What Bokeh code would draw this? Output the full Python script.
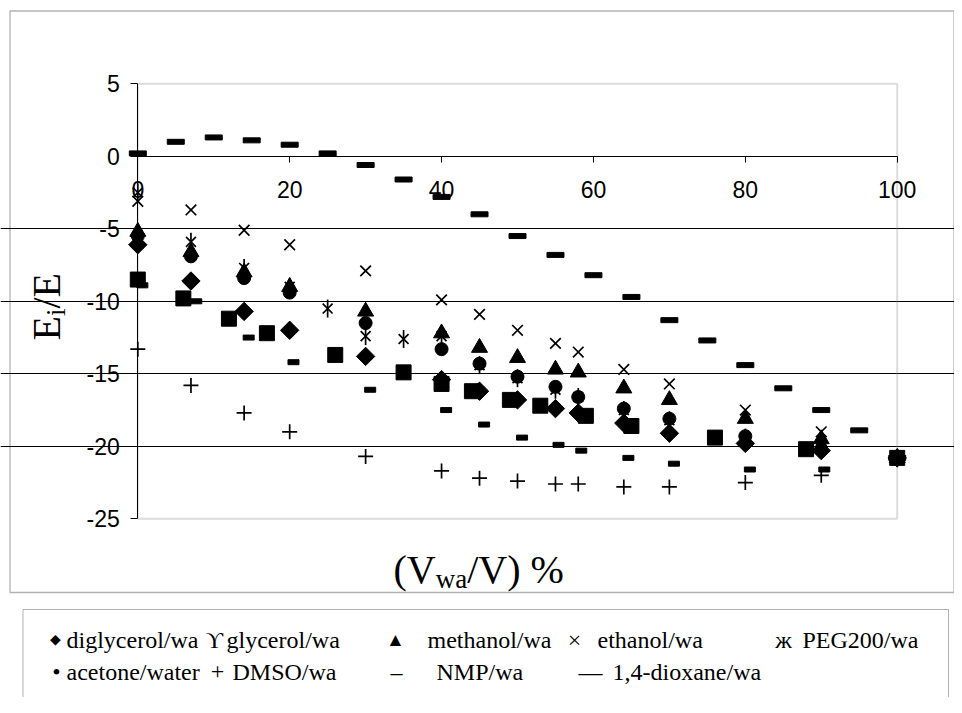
import numpy as np
from bokeh.plotting import figure
from bokeh.models import Range1d, FixedTicker, BoxAnnotation, Label
from bokeh.embed import file_html
from bokeh.resources import INLINE

# ---------------- data ----------------
x_common = [0, 7, 14, 20, 30, 40, 45, 50, 55, 58, 64, 70, 80, 90, 100]
diglycerol = [-6.1, -8.6, -10.7, -12.0, -13.8, -15.4, -16.2, -16.8, -17.4, -17.7, -18.4, -19.1, -19.8, -20.3, -20.8]
glycerol_x = [0, 6, 12, 17, 26, 35, 40, 44, 49, 53, 59, 65, 76, 88, 100]
glycerol = [-8.5, -9.8, -11.2, -12.2, -13.7, -14.9, -15.7, -16.2, -16.8, -17.2, -17.9, -18.6, -19.4, -20.2, -20.8]
methanol = [-5.2, -6.6, -8.0, -9.0, -10.7, -12.2, -13.2, -13.9, -14.7, -14.9, -16.0, -16.8, -18.1, -19.5, -20.8]
ethanol = [-3.1, -3.7, -5.1, -6.1, -7.9, -9.9, -10.9, -12.0, -12.9, -13.5, -14.7, -15.7, -17.5, -19.0, -20.8]
peg_x = [0, 7, 14, 20, 25, 30, 35, 40, 45, 50, 55, 58, 64, 70, 80, 90, 100]
peg = [-2.5, -5.9, -7.7, -9.0, -10.5, -12.4, -12.6, -12.4, -14.4, -15.3, -16.1, -16.6, -17.5, -18.2, -19.4, -20.2, -20.8]
acetone = [-5.5, -6.9, -8.4, -9.4, -11.5, -13.3, -14.3, -15.2, -15.9, -16.6, -17.4, -18.1, -19.3, -20.2, -20.8]
dmso = [-13.3, -15.8, -17.7, -19.0, -20.7, -21.7, -22.2, -22.4, -22.6, -22.6, -22.8, -22.8, -22.5, -22.0, -20.8]
nmp_x = [0.6, 7.7, 14.6, 20.5, 30.6, 40.6, 45.6, 50.6, 55.4, 58.4, 64.6, 70.6, 80.6, 90.4]
nmp = [-8.9, -10.0, -12.5, -14.2, -16.1, -17.5, -18.5, -19.4, -19.9, -20.3, -20.8, -21.2, -21.6, -21.6]
dioxane_x = [0, 5, 10, 15, 20, 25, 30, 35, 40, 45, 50, 55, 60, 65, 70, 75, 80, 85, 90, 95, 100]
dioxane = [0.2, 1.0, 1.3, 1.1, 0.8, 0.2, -0.6, -1.6, -2.8, -4.0, -5.5, -6.8, -8.2, -9.7, -11.3, -12.7, -14.4, -16.0, -17.5, -18.9, -20.8]

x_ticks = [0, 20, 40, 60, 80, 100]
y_ticks = [5, 0, -5, -10, -15, -20, -25]
grid_ticks = [-5, -10, -15, -20]

legend_row1 = [("\u25c6", "diglycerol/wa"), ("\u03d2", "glycerol/wa"), ("\u25b2", "methanol/wa"),
               ("\u00d7", "ethanol/wa"), ("\u0436", "PEG200/wa")]
legend_row2 = [("\u2022", "acetone/water"), ("+", "DMSO/wa"), ("\u2013", "NMP/wa"),
               ("\u2014", "1,4-dioxane/wa")]

# ---------------- layout ----------------
W, H = 954, 697
X0_PX, X_SCALE = 137.3, 7.594      # canvas px of x=0, px per unit
Y0_PX, Y_SCALE = 155.8, 14.5       # canvas px of y=0, px per unit

def dx(px):  # canvas px -> data x
    return (px - X0_PX) / X_SCALE

def dy(py):  # canvas px -> data y
    return (Y0_PX - py) / Y_SCALE

p = figure(width=W, height=H, output_backend="svg", toolbar_location=None,
           x_range=Range1d(dx(0), dx(W)), y_range=Range1d(dy(H), dy(0)),
           min_border=0, outline_line_color=None,
           background_fill_color="white", border_fill_color="white")

BLACK = "black"
AX_FONT = "Liberation Sans"
SERIF = "Liberation Serif"

# axes
for ax in (p.xaxis[0], p.yaxis[0]):
    ax.axis_line_color = BLACK
    ax.axis_line_width = 1
    ax.major_tick_line_color = BLACK
    ax.major_tick_in = 0
    ax.minor_tick_in = 0
    ax.minor_tick_out = 0
    ax.major_label_text_font = AX_FONT
    ax.major_label_text_font_size = "23px"
    ax.major_label_text_color = BLACK
    ax.fixed_location = 0

p.xaxis.ticker = FixedTicker(ticks=x_ticks)
p.xaxis.bounds = (0, 100)
p.xaxis.major_tick_out = 6
p.xaxis.major_label_standoff = 19

p.yaxis.ticker = FixedTicker(ticks=y_ticks)
p.yaxis.bounds = (-25, 5)
p.yaxis.major_tick_out = 7
p.yaxis.major_label_standoff = 11
p.yaxis.major_label_overrides = {t: str(t) for t in y_ticks}

p.xgrid.visible = False
p.ygrid.ticker = FixedTicker(ticks=grid_ticks)
p.ygrid.bounds = (0, 100)
p.ygrid.grid_line_color = BLACK
p.ygrid.grid_line_width = 1

# plot-area border (grey), outer chart box, legend box
p.add_layout(BoxAnnotation(left=0, right=100, top=5, bottom=-25, fill_alpha=0,
                           line_color="#8a8a8a", line_width=2, level="underlay"))
p.add_layout(BoxAnnotation(left=dx(9.5), right=dx(953.5), top=dy(10.5), bottom=dy(592),
                           fill_alpha=0, line_color=BLACK, line_width=1.3, level="underlay"))
p.add_layout(BoxAnnotation(left=dx(22.5), right=dx(948), top=dy(609), bottom=dy(730),
                           fill_alpha=0, line_color=BLACK, line_width=1, level="underlay"))

# series
p.scatter(x_common, diglycerol, marker="square", angle=np.pi / 4, size=13, color=BLACK)
p.scatter(glycerol_x, glycerol, marker="square", size=15, color=BLACK)
p.scatter(x_common, methanol, marker="triangle", size=16, color=BLACK)
p.scatter(x_common, ethanol, marker="x", size=15, line_color=BLACK, line_width=1.7)
p.scatter(peg_x, peg, marker="x", size=14, line_color=BLACK, line_width=1.7)
p.scatter(peg_x, peg, marker="dash", angle=np.pi / 2, size=18, line_color=BLACK, line_width=1.7)
p.scatter(x_common, acetone, marker="circle", size=13, color=BLACK)
p.scatter(x_common, dmso, marker="cross", size=15, line_color=BLACK, line_width=1.7)
p.rect(nmp_x, nmp, width=11, height=5, width_units="screen", height_units="screen",
       color=BLACK)
p.rect(dioxane_x, dioxane, width=17, height=5, width_units="screen", height_units="screen",
       color=BLACK)

# axis titles composed with subscripts
def lab(px, py, text, size, angle=0.0, font=SERIF, align="left"):
    p.add_layout(Label(x=dx(px), y=dy(py), text=text, text_font=font,
                       text_font_size=f"{size}px", text_color=BLACK, angle=angle,
                       text_align=align, text_baseline="alphabetic"))

F, f = 40, 27
xb, yb = 393, 569
lab(xb, yb, "(V", F)
lab(xb + 1.055 * F, yb + 9, "wa", f)
lab(xb + 1.055 * F + 1.166 * f, yb, "/V) %", F)

yxb, yyb = 46, 340
lab(yxb, yyb, "E", F, angle=np.pi / 2)
lab(yxb + 9, yyb - 0.611 * F, "i", f, angle=np.pi / 2)
lab(yxb, yyb - 0.611 * F - 0.278 * f, "/E", F, angle=np.pi / 2)

# legend text box (symbol centres and text starts)
LF = 24
sym_size = {"\u25c6": 14, "\u25b2": 19, "\u2022": 24, "\u00d7": 24, "\u0436": 24, "\u03d2": 24,
            "+": 24, "\u2013": 24, "\u2014": 24}
row1_sym_c = [55, 214, 395, 574, 783]
row1_txt_x = [66, 226, 427, 597, 802]
row2_sym_c = [56, 217, 396, 590]
row2_txt_x = [66, 232, 436, 612]
for (s, t), sc, tx in zip(legend_row1, row1_sym_c, row1_txt_x):
    lab(sc, 639, s, sym_size[s], align="center")
    lab(tx, 639, t, LF)
for (s, t), sc, tx in zip(legend_row2, row2_sym_c, row2_txt_x):
    lab(sc, 671, s, sym_size[s], align="center")
    lab(tx, 671, t, LF)

open("out.html", "w").write(file_html(p, INLINE))
